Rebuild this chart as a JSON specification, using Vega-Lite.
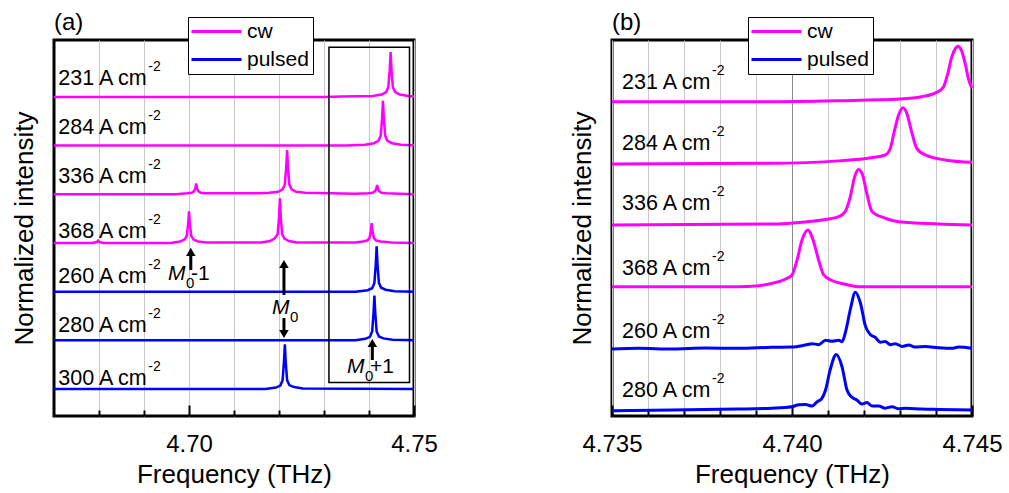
{
  "$schema": "https://vega.github.io/schema/vega-lite/v6.json",
  "padding": {"left": 9, "top": 9, "right": 0, "bottom": 0},
  "config": {
    "font": "Liberation Sans",
    "view": {"stroke": "black", "strokeWidth": 3},
    "axis": {"labelColor": "black", "titleColor": "black", "titleFontWeight": "normal", "labelFont": "Liberation Sans", "titleFont": "Liberation Sans"},
    "text": {"font": "Liberation Sans", "color": "black"},
    "legend": {"symbolType": "M-4,0L4,0", "symbolSize": 156.25, "symbolStrokeWidth": 3, "symbolOffset": 14, "labelOffset": 20, "labelFontSize": 21, "labelFont": "Liberation Sans", "labelColor": "black", "strokeColor": "black", "fillColor": "white", "padding": 4, "rowPadding": 6}
  },
  "datasets": {
    "spectraA": [
      {"trace": "231", "mode": "cw", "freq": 4.670, "intensity": 6.00},
      {"trace": "231", "mode": "cw", "freq": 4.730, "intensity": 6.00},
      {"trace": "231", "mode": "cw", "freq": 4.734, "intensity": 6.01},
      {"trace": "231", "mode": "cw", "freq": 4.7408, "intensity": 6.02},
      {"trace": "231", "mode": "cw", "freq": 4.7428, "intensity": 6.05},
      {"trace": "231", "mode": "cw", "freq": 4.7438, "intensity": 6.10},
      {"trace": "231", "mode": "cw", "freq": 4.7443, "intensity": 6.20},
      {"trace": "231", "mode": "cw", "freq": 4.7446, "intensity": 6.55},
      {"trace": "231", "mode": "cw", "freq": 4.7448, "intensity": 6.92},
      {"trace": "231", "mode": "cw", "freq": 4.7450, "intensity": 6.55},
      {"trace": "231", "mode": "cw", "freq": 4.7453, "intensity": 6.20},
      {"trace": "231", "mode": "cw", "freq": 4.7458, "intensity": 6.10},
      {"trace": "231", "mode": "cw", "freq": 4.7468, "intensity": 6.05},
      {"trace": "231", "mode": "cw", "freq": 4.7488, "intensity": 6.02},
      {"trace": "231", "mode": "cw", "freq": 4.750, "intensity": 6.01},

      {"trace": "284", "mode": "cw", "freq": 4.670, "intensity": 5.00},
      {"trace": "284", "mode": "cw", "freq": 4.735, "intensity": 5.00},
      {"trace": "284", "mode": "cw", "freq": 4.7391, "intensity": 5.02},
      {"trace": "284", "mode": "cw", "freq": 4.7411, "intensity": 5.05},
      {"trace": "284", "mode": "cw", "freq": 4.7421, "intensity": 5.10},
      {"trace": "284", "mode": "cw", "freq": 4.7426, "intensity": 5.20},
      {"trace": "284", "mode": "cw", "freq": 4.7429, "intensity": 5.55},
      {"trace": "284", "mode": "cw", "freq": 4.7431, "intensity": 5.92},
      {"trace": "284", "mode": "cw", "freq": 4.7433, "intensity": 5.55},
      {"trace": "284", "mode": "cw", "freq": 4.7436, "intensity": 5.20},
      {"trace": "284", "mode": "cw", "freq": 4.7441, "intensity": 5.10},
      {"trace": "284", "mode": "cw", "freq": 4.7451, "intensity": 5.05},
      {"trace": "284", "mode": "cw", "freq": 4.7471, "intensity": 5.02},
      {"trace": "284", "mode": "cw", "freq": 4.750, "intensity": 5.01},

      {"trace": "336", "mode": "cw", "freq": 4.670, "intensity": 4.00},
      {"trace": "336", "mode": "cw", "freq": 4.697, "intensity": 4.00},
      {"trace": "336", "mode": "cw", "freq": 4.6996, "intensity": 4.02},
      {"trace": "336", "mode": "cw", "freq": 4.7006, "intensity": 4.03},
      {"trace": "336", "mode": "cw", "freq": 4.7011, "intensity": 4.06},
      {"trace": "336", "mode": "cw", "freq": 4.7014, "intensity": 4.12},
      {"trace": "336", "mode": "cw", "freq": 4.7016, "intensity": 4.22},
      {"trace": "336", "mode": "cw", "freq": 4.7018, "intensity": 4.12},
      {"trace": "336", "mode": "cw", "freq": 4.7021, "intensity": 4.06},
      {"trace": "336", "mode": "cw", "freq": 4.7026, "intensity": 4.03},
      {"trace": "336", "mode": "cw", "freq": 4.7036, "intensity": 4.02},
      {"trace": "336", "mode": "cw", "freq": 4.716, "intensity": 4.02},
      {"trace": "336", "mode": "cw", "freq": 4.7178, "intensity": 4.03},
      {"trace": "336", "mode": "cw", "freq": 4.7198, "intensity": 4.05},
      {"trace": "336", "mode": "cw", "freq": 4.7208, "intensity": 4.10},
      {"trace": "336", "mode": "cw", "freq": 4.7213, "intensity": 4.20},
      {"trace": "336", "mode": "cw", "freq": 4.7216, "intensity": 4.55},
      {"trace": "336", "mode": "cw", "freq": 4.7218, "intensity": 4.91},
      {"trace": "336", "mode": "cw", "freq": 4.7220, "intensity": 4.55},
      {"trace": "336", "mode": "cw", "freq": 4.7223, "intensity": 4.20},
      {"trace": "336", "mode": "cw", "freq": 4.7228, "intensity": 4.10},
      {"trace": "336", "mode": "cw", "freq": 4.7238, "intensity": 4.05},
      {"trace": "336", "mode": "cw", "freq": 4.7258, "intensity": 4.03},
      {"trace": "336", "mode": "cw", "freq": 4.737, "intensity": 4.01},
      {"trace": "336", "mode": "cw", "freq": 4.7398, "intensity": 4.02},
      {"trace": "336", "mode": "cw", "freq": 4.7408, "intensity": 4.03},
      {"trace": "336", "mode": "cw", "freq": 4.7413, "intensity": 4.06},
      {"trace": "336", "mode": "cw", "freq": 4.7416, "intensity": 4.11},
      {"trace": "336", "mode": "cw", "freq": 4.7418, "intensity": 4.19},
      {"trace": "336", "mode": "cw", "freq": 4.7420, "intensity": 4.11},
      {"trace": "336", "mode": "cw", "freq": 4.7423, "intensity": 4.06},
      {"trace": "336", "mode": "cw", "freq": 4.7428, "intensity": 4.03},
      {"trace": "336", "mode": "cw", "freq": 4.7438, "intensity": 4.02},
      {"trace": "336", "mode": "cw", "freq": 4.750, "intensity": 4.00},

      {"trace": "368", "mode": "cw", "freq": 4.670, "intensity": 3.00},
      {"trace": "368", "mode": "cw", "freq": 4.6785, "intensity": 3.00},
      {"trace": "368", "mode": "cw", "freq": 4.6795, "intensity": 3.02},
      {"trace": "368", "mode": "cw", "freq": 4.6798, "intensity": 3.05},
      {"trace": "368", "mode": "cw", "freq": 4.6801, "intensity": 3.02},
      {"trace": "368", "mode": "cw", "freq": 4.681, "intensity": 3.00},
      {"trace": "368", "mode": "cw", "freq": 4.696, "intensity": 3.00},
      {"trace": "368", "mode": "cw", "freq": 4.698, "intensity": 3.03},
      {"trace": "368", "mode": "cw", "freq": 4.699, "intensity": 3.07},
      {"trace": "368", "mode": "cw", "freq": 4.6995, "intensity": 3.14},
      {"trace": "368", "mode": "cw", "freq": 4.6998, "intensity": 3.38},
      {"trace": "368", "mode": "cw", "freq": 4.7000, "intensity": 3.65},
      {"trace": "368", "mode": "cw", "freq": 4.7002, "intensity": 3.38},
      {"trace": "368", "mode": "cw", "freq": 4.7005, "intensity": 3.14},
      {"trace": "368", "mode": "cw", "freq": 4.701, "intensity": 3.07},
      {"trace": "368", "mode": "cw", "freq": 4.702, "intensity": 3.03},
      {"trace": "368", "mode": "cw", "freq": 4.704, "intensity": 3.01},
      {"trace": "368", "mode": "cw", "freq": 4.716, "intensity": 3.01},
      {"trace": "368", "mode": "cw", "freq": 4.718, "intensity": 3.04},
      {"trace": "368", "mode": "cw", "freq": 4.719, "intensity": 3.09},
      {"trace": "368", "mode": "cw", "freq": 4.7197, "intensity": 3.18},
      {"trace": "368", "mode": "cw", "freq": 4.7200, "intensity": 3.52},
      {"trace": "368", "mode": "cw", "freq": 4.7202, "intensity": 3.92},
      {"trace": "368", "mode": "cw", "freq": 4.7204, "intensity": 3.52},
      {"trace": "368", "mode": "cw", "freq": 4.7207, "intensity": 3.18},
      {"trace": "368", "mode": "cw", "freq": 4.7212, "intensity": 3.09},
      {"trace": "368", "mode": "cw", "freq": 4.7222, "intensity": 3.04},
      {"trace": "368", "mode": "cw", "freq": 4.724, "intensity": 3.01},
      {"trace": "368", "mode": "cw", "freq": 4.737, "intensity": 3.01},
      {"trace": "368", "mode": "cw", "freq": 4.7386, "intensity": 3.03},
      {"trace": "368", "mode": "cw", "freq": 4.7396, "intensity": 3.05},
      {"trace": "368", "mode": "cw", "freq": 4.7401, "intensity": 3.10},
      {"trace": "368", "mode": "cw", "freq": 4.7404, "intensity": 3.23},
      {"trace": "368", "mode": "cw", "freq": 4.7406, "intensity": 3.41},
      {"trace": "368", "mode": "cw", "freq": 4.7408, "intensity": 3.23},
      {"trace": "368", "mode": "cw", "freq": 4.7411, "intensity": 3.10},
      {"trace": "368", "mode": "cw", "freq": 4.7416, "intensity": 3.05},
      {"trace": "368", "mode": "cw", "freq": 4.7426, "intensity": 3.03},
      {"trace": "368", "mode": "cw", "freq": 4.745, "intensity": 3.01},
      {"trace": "368", "mode": "cw", "freq": 4.750, "intensity": 3.00},

      {"trace": "260", "mode": "pulsed", "freq": 4.670, "intensity": 2.00},
      {"trace": "260", "mode": "pulsed", "freq": 4.737, "intensity": 2.00},
      {"trace": "260", "mode": "pulsed", "freq": 4.7397, "intensity": 2.03},
      {"trace": "260", "mode": "pulsed", "freq": 4.7407, "intensity": 2.07},
      {"trace": "260", "mode": "pulsed", "freq": 4.7412, "intensity": 2.18},
      {"trace": "260", "mode": "pulsed", "freq": 4.7415, "intensity": 2.55},
      {"trace": "260", "mode": "pulsed", "freq": 4.7417, "intensity": 2.93},
      {"trace": "260", "mode": "pulsed", "freq": 4.7419, "intensity": 2.55},
      {"trace": "260", "mode": "pulsed", "freq": 4.7422, "intensity": 2.18},
      {"trace": "260", "mode": "pulsed", "freq": 4.7427, "intensity": 2.08},
      {"trace": "260", "mode": "pulsed", "freq": 4.7437, "intensity": 2.04},
      {"trace": "260", "mode": "pulsed", "freq": 4.7457, "intensity": 2.01},
      {"trace": "260", "mode": "pulsed", "freq": 4.750, "intensity": 2.00},

      {"trace": "280", "mode": "pulsed", "freq": 4.670, "intensity": 1.00},
      {"trace": "280", "mode": "pulsed", "freq": 4.737, "intensity": 1.00},
      {"trace": "280", "mode": "pulsed", "freq": 4.7392, "intensity": 1.03},
      {"trace": "280", "mode": "pulsed", "freq": 4.7402, "intensity": 1.07},
      {"trace": "280", "mode": "pulsed", "freq": 4.7407, "intensity": 1.18},
      {"trace": "280", "mode": "pulsed", "freq": 4.7410, "intensity": 1.55},
      {"trace": "280", "mode": "pulsed", "freq": 4.7412, "intensity": 1.92},
      {"trace": "280", "mode": "pulsed", "freq": 4.7414, "intensity": 1.55},
      {"trace": "280", "mode": "pulsed", "freq": 4.7417, "intensity": 1.18},
      {"trace": "280", "mode": "pulsed", "freq": 4.7422, "intensity": 1.08},
      {"trace": "280", "mode": "pulsed", "freq": 4.7432, "intensity": 1.04},
      {"trace": "280", "mode": "pulsed", "freq": 4.7452, "intensity": 1.01},
      {"trace": "280", "mode": "pulsed", "freq": 4.750, "intensity": 1.00},

      {"trace": "300", "mode": "pulsed", "freq": 4.670, "intensity": 0.00},
      {"trace": "300", "mode": "pulsed", "freq": 4.717, "intensity": 0.00},
      {"trace": "300", "mode": "pulsed", "freq": 4.7193, "intensity": 0.03},
      {"trace": "300", "mode": "pulsed", "freq": 4.7203, "intensity": 0.07},
      {"trace": "300", "mode": "pulsed", "freq": 4.7208, "intensity": 0.18},
      {"trace": "300", "mode": "pulsed", "freq": 4.7211, "intensity": 0.55},
      {"trace": "300", "mode": "pulsed", "freq": 4.7213, "intensity": 0.92},
      {"trace": "300", "mode": "pulsed", "freq": 4.7215, "intensity": 0.55},
      {"trace": "300", "mode": "pulsed", "freq": 4.7218, "intensity": 0.18},
      {"trace": "300", "mode": "pulsed", "freq": 4.7223, "intensity": 0.08},
      {"trace": "300", "mode": "pulsed", "freq": 4.7233, "intensity": 0.04},
      {"trace": "300", "mode": "pulsed", "freq": 4.7253, "intensity": 0.01},
      {"trace": "300", "mode": "pulsed", "freq": 4.750, "intensity": 0.00}
    ],
    "labelsA": [
      {"freq": 4.67096, "intensity": 6.24, "label": "231 A cm"},
      {"freq": 4.67096, "intensity": 5.23, "label": "284 A cm"},
      {"freq": 4.67096, "intensity": 4.23, "label": "336 A cm"},
      {"freq": 4.67096, "intensity": 3.10, "label": "368 A cm"},
      {"freq": 4.67096, "intensity": 2.17, "label": "260 A cm"},
      {"freq": 4.67096, "intensity": 1.165, "label": "280 A cm"},
      {"freq": 4.67096, "intensity": 0.09, "label": "300 A cm"}
    ],
    "boxA": [
      {"freq": 4.7311, "freq2": 4.7490, "intensity": 0.134, "intensity2": 7.02}
    ],
    "arrowsA": [
      {"mode": "M0-1", "dir": "up", "freq": 4.7004, "intensity": 2.445, "intensity2": 2.815},
      {"mode": "M0", "dir": "up", "freq": 4.7211, "intensity": 1.931, "intensity2": 2.568},
      {"mode": "M0", "dir": "down", "freq": 4.7211, "intensity": 1.459, "intensity2": 1.13},
      {"mode": "M0+1", "dir": "up", "freq": 4.74074, "intensity": 0.596, "intensity2": 0.945}
    ],
    "modesA": [
      {"mode": "M0-1", "freq": 4.69533, "intensity": 2.24, "suffix": "-1"},
      {"mode": "M0", "freq": 4.71844, "intensity": 1.541, "suffix": ""},
      {"mode": "M0+1", "freq": 4.73511, "intensity": 0.329, "suffix": "+1"}
    ],
    "spectraB": [
      {"trace": "231", "mode": "cw", "freq": 4.735, "intensity": 5.00},
      {"trace": "231", "mode": "cw", "freq": 4.7394, "intensity": 5.00},
      {"trace": "231", "mode": "cw", "freq": 4.7413, "intensity": 5.016},
      {"trace": "231", "mode": "cw", "freq": 4.7430, "intensity": 5.043},
      {"trace": "231", "mode": "cw", "freq": 4.7436, "intensity": 5.08},
      {"trace": "231", "mode": "cw", "freq": 4.7440, "intensity": 5.146},
      {"trace": "231", "mode": "cw", "freq": 4.7442, "intensity": 5.23},
      {"trace": "231", "mode": "cw", "freq": 4.74433, "intensity": 5.46},
      {"trace": "231", "mode": "cw", "freq": 4.74444, "intensity": 5.73},
      {"trace": "231", "mode": "cw", "freq": 4.74454, "intensity": 5.865},
      {"trace": "231", "mode": "cw", "freq": 4.74461, "intensity": 5.90},
      {"trace": "231", "mode": "cw", "freq": 4.74470, "intensity": 5.84},
      {"trace": "231", "mode": "cw", "freq": 4.74481, "intensity": 5.62},
      {"trace": "231", "mode": "cw", "freq": 4.74491, "intensity": 5.35},
      {"trace": "231", "mode": "cw", "freq": 4.745, "intensity": 5.22},

      {"trace": "284", "mode": "cw", "freq": 4.735, "intensity": 3.99},
      {"trace": "284", "mode": "cw", "freq": 4.7394, "intensity": 4.00},
      {"trace": "284", "mode": "cw", "freq": 4.7413, "intensity": 4.04},
      {"trace": "284", "mode": "cw", "freq": 4.7422, "intensity": 4.09},
      {"trace": "284", "mode": "cw", "freq": 4.74259, "intensity": 4.135},
      {"trace": "284", "mode": "cw", "freq": 4.74273, "intensity": 4.24},
      {"trace": "284", "mode": "cw", "freq": 4.74285, "intensity": 4.54},
      {"trace": "284", "mode": "cw", "freq": 4.74296, "intensity": 4.78},
      {"trace": "284", "mode": "cw", "freq": 4.74308, "intensity": 4.90},
      {"trace": "284", "mode": "cw", "freq": 4.74319, "intensity": 4.81},
      {"trace": "284", "mode": "cw", "freq": 4.74331, "intensity": 4.54},
      {"trace": "284", "mode": "cw", "freq": 4.74347, "intensity": 4.24},
      {"trace": "284", "mode": "cw", "freq": 4.74375, "intensity": 4.124},
      {"trace": "284", "mode": "cw", "freq": 4.74426, "intensity": 4.054},
      {"trace": "284", "mode": "cw", "freq": 4.745, "intensity": 4.016},

      {"trace": "336", "mode": "cw", "freq": 4.735, "intensity": 3.00},
      {"trace": "336", "mode": "cw", "freq": 4.7394, "intensity": 3.016},
      {"trace": "336", "mode": "cw", "freq": 4.74037, "intensity": 3.05},
      {"trace": "336", "mode": "cw", "freq": 4.74093, "intensity": 3.09},
      {"trace": "336", "mode": "cw", "freq": 4.7413, "intensity": 3.135},
      {"trace": "336", "mode": "cw", "freq": 4.74148, "intensity": 3.22},
      {"trace": "336", "mode": "cw", "freq": 4.74162, "intensity": 3.46},
      {"trace": "336", "mode": "cw", "freq": 4.74174, "intensity": 3.78},
      {"trace": "336", "mode": "cw", "freq": 4.74185, "intensity": 3.90},
      {"trace": "336", "mode": "cw", "freq": 4.74196, "intensity": 3.81},
      {"trace": "336", "mode": "cw", "freq": 4.74208, "intensity": 3.51},
      {"trace": "336", "mode": "cw", "freq": 4.74222, "intensity": 3.22},
      {"trace": "336", "mode": "cw", "freq": 4.74259, "intensity": 3.11},
      {"trace": "336", "mode": "cw", "freq": 4.74296, "intensity": 3.054},
      {"trace": "336", "mode": "cw", "freq": 4.74407, "intensity": 3.018},
      {"trace": "336", "mode": "cw", "freq": 4.745, "intensity": 3.00},

      {"trace": "368", "mode": "cw", "freq": 4.735, "intensity": 2.00},
      {"trace": "368", "mode": "cw", "freq": 4.73852, "intensity": 2.00},
      {"trace": "368", "mode": "cw", "freq": 4.73898, "intensity": 2.01},
      {"trace": "368", "mode": "cw", "freq": 4.73944, "intensity": 2.054},
      {"trace": "368", "mode": "cw", "freq": 4.73981, "intensity": 2.12},
      {"trace": "368", "mode": "cw", "freq": 4.74000, "intensity": 2.19},
      {"trace": "368", "mode": "cw", "freq": 4.74014, "intensity": 2.43},
      {"trace": "368", "mode": "cw", "freq": 4.74028, "intensity": 2.76},
      {"trace": "368", "mode": "cw", "freq": 4.74044, "intensity": 2.92},
      {"trace": "368", "mode": "cw", "freq": 4.74060, "intensity": 2.73},
      {"trace": "368", "mode": "cw", "freq": 4.74074, "intensity": 2.43},
      {"trace": "368", "mode": "cw", "freq": 4.74088, "intensity": 2.19},
      {"trace": "368", "mode": "cw", "freq": 4.74111, "intensity": 2.10},
      {"trace": "368", "mode": "cw", "freq": 4.74148, "intensity": 2.04},
      {"trace": "368", "mode": "cw", "freq": 4.74185, "intensity": 2.00},
      {"trace": "368", "mode": "cw", "freq": 4.745, "intensity": 2.00},

      {"trace": "260", "mode": "pulsed", "freq": 4.735, "intensity": 0.99},
      {"trace": "260", "mode": "pulsed", "freq": 4.73574, "intensity": 1.00},
      {"trace": "260", "mode": "pulsed", "freq": 4.73667, "intensity": 0.99},
      {"trace": "260", "mode": "pulsed", "freq": 4.73759, "intensity": 1.005},
      {"trace": "260", "mode": "pulsed", "freq": 4.73852, "intensity": 1.00},
      {"trace": "260", "mode": "pulsed", "freq": 4.73944, "intensity": 1.016},
      {"trace": "260", "mode": "pulsed", "freq": 4.74000, "intensity": 1.02},
      {"trace": "260", "mode": "pulsed", "freq": 4.74037, "intensity": 1.054},
      {"trace": "260", "mode": "pulsed", "freq": 4.74056, "intensity": 1.076},
      {"trace": "260", "mode": "pulsed", "freq": 4.74074, "intensity": 1.06},
      {"trace": "260", "mode": "pulsed", "freq": 4.74093, "intensity": 1.13},
      {"trace": "260", "mode": "pulsed", "freq": 4.74111, "intensity": 1.114},
      {"trace": "260", "mode": "pulsed", "freq": 4.74130, "intensity": 1.13},
      {"trace": "260", "mode": "pulsed", "freq": 4.74139, "intensity": 1.108},
      {"trace": "260", "mode": "pulsed", "freq": 4.74148, "intensity": 1.25},
      {"trace": "260", "mode": "pulsed", "freq": 4.74162, "intensity": 1.63},
      {"trace": "260", "mode": "pulsed", "freq": 4.74176, "intensity": 1.91},
      {"trace": "260", "mode": "pulsed", "freq": 4.74190, "intensity": 1.735},
      {"trace": "260", "mode": "pulsed", "freq": 4.74204, "intensity": 1.36},
      {"trace": "260", "mode": "pulsed", "freq": 4.74218, "intensity": 1.22},
      {"trace": "260", "mode": "pulsed", "freq": 4.74231, "intensity": 1.18},
      {"trace": "260", "mode": "pulsed", "freq": 4.74245, "intensity": 1.10},
      {"trace": "260", "mode": "pulsed", "freq": 4.74259, "intensity": 1.11},
      {"trace": "260", "mode": "pulsed", "freq": 4.74273, "intensity": 1.06},
      {"trace": "260", "mode": "pulsed", "freq": 4.74287, "intensity": 1.076},
      {"trace": "260", "mode": "pulsed", "freq": 4.74306, "intensity": 1.03},
      {"trace": "260", "mode": "pulsed", "freq": 4.74324, "intensity": 1.054},
      {"trace": "260", "mode": "pulsed", "freq": 4.74343, "intensity": 1.02},
      {"trace": "260", "mode": "pulsed", "freq": 4.74370, "intensity": 1.03},
      {"trace": "260", "mode": "pulsed", "freq": 4.74407, "intensity": 1.01},
      {"trace": "260", "mode": "pulsed", "freq": 4.74444, "intensity": 1.00},
      {"trace": "260", "mode": "pulsed", "freq": 4.74463, "intensity": 1.02},
      {"trace": "260", "mode": "pulsed", "freq": 4.745, "intensity": 1.00},

      {"trace": "280", "mode": "pulsed", "freq": 4.735, "intensity": -0.01},
      {"trace": "280", "mode": "pulsed", "freq": 4.73667, "intensity": 0.00},
      {"trace": "280", "mode": "pulsed", "freq": 4.73759, "intensity": 0.01},
      {"trace": "280", "mode": "pulsed", "freq": 4.73852, "intensity": 0.016},
      {"trace": "280", "mode": "pulsed", "freq": 4.73944, "intensity": 0.03},
      {"trace": "280", "mode": "pulsed", "freq": 4.74000, "intensity": 0.054},
      {"trace": "280", "mode": "pulsed", "freq": 4.74019, "intensity": 0.086},
      {"trace": "280", "mode": "pulsed", "freq": 4.74037, "intensity": 0.09},
      {"trace": "280", "mode": "pulsed", "freq": 4.74056, "intensity": 0.065},
      {"trace": "280", "mode": "pulsed", "freq": 4.74069, "intensity": 0.13},
      {"trace": "280", "mode": "pulsed", "freq": 4.74083, "intensity": 0.19},
      {"trace": "280", "mode": "pulsed", "freq": 4.74093, "intensity": 0.32},
      {"trace": "280", "mode": "pulsed", "freq": 4.74106, "intensity": 0.65},
      {"trace": "280", "mode": "pulsed", "freq": 4.74123, "intensity": 0.90},
      {"trace": "280", "mode": "pulsed", "freq": 4.74139, "intensity": 0.70},
      {"trace": "280", "mode": "pulsed", "freq": 4.74153, "intensity": 0.32},
      {"trace": "280", "mode": "pulsed", "freq": 4.74167, "intensity": 0.205},
      {"trace": "280", "mode": "pulsed", "freq": 4.74181, "intensity": 0.16},
      {"trace": "280", "mode": "pulsed", "freq": 4.74194, "intensity": 0.097},
      {"trace": "280", "mode": "pulsed", "freq": 4.74208, "intensity": 0.12},
      {"trace": "280", "mode": "pulsed", "freq": 4.74222, "intensity": 0.065},
      {"trace": "280", "mode": "pulsed", "freq": 4.74241, "intensity": 0.065},
      {"trace": "280", "mode": "pulsed", "freq": 4.74259, "intensity": 0.03},
      {"trace": "280", "mode": "pulsed", "freq": 4.74278, "intensity": 0.054},
      {"trace": "280", "mode": "pulsed", "freq": 4.74296, "intensity": 0.02},
      {"trace": "280", "mode": "pulsed", "freq": 4.74315, "intensity": 0.03},
      {"trace": "280", "mode": "pulsed", "freq": 4.74361, "intensity": 0.016},
      {"trace": "280", "mode": "pulsed", "freq": 4.74407, "intensity": 0.01},
      {"trace": "280", "mode": "pulsed", "freq": 4.745, "intensity": 0.00}
    ],
    "labelsB": [
      {"freq": 4.73528, "intensity": 5.198, "label": "231 A cm"},
      {"freq": 4.73528, "intensity": 4.214, "label": "284 A cm"},
      {"freq": 4.73528, "intensity": 3.24, "label": "336 A cm"},
      {"freq": 4.73528, "intensity": 2.188, "label": "368 A cm"},
      {"freq": 4.73528, "intensity": 1.162, "label": "260 A cm"},
      {"freq": 4.73528, "intensity": 0.217, "label": "280 A cm"}
    ]
  },
  "spacing": 128,
  "resolve": {"scale": {"x": "independent", "y": "independent", "color": "independent"}, "legend": {"color": "independent"}},
  "hconcat": [
    {
      "width": 360,
      "height": 376,
      "title": {"text": "(a)", "anchor": "start", "frame": "group", "fontSize": 24, "fontWeight": "normal", "font": "Liberation Sans", "color": "black", "baseline": "alphabetic", "offset": -37},
      "encoding": {
        "x": {
          "field": "freq", "type": "quantitative", "title": "Frequency (THz)",
          "scale": {"domain": [4.67, 4.75], "nice": false, "zero": false},
          "axis": {
            "values": [4.68, 4.69, 4.70, 4.71, 4.72, 4.73, 4.74, 4.75],
            "format": ".2f",
            "labelExpr": "abs(datum.value - 4.70) < 0.0001 || abs(datum.value - 4.75) < 0.0001 ? datum.label : ''",
            "grid": true, "gridColor": "#c8c8c8", "gridWidth": 1,
            "domain": false, "tickColor": "black", "tickWidth": 2,
            "tickSize": {"condition": {"test": "abs(datum.value - 4.70) < 0.0001 || abs(datum.value - 4.75) < 0.0001", "value": -11}, "value": -6},
            "labelFontSize": 24, "labelPadding": 27, "labelFlush": false, "labelOverlap": false,
            "titleFontSize": 26, "titlePadding": 0
          }
        },
        "y": {
          "field": "intensity", "type": "quantitative", "title": "Normalized intensity",
          "scale": {"domain": [-0.555, 7.17], "nice": false, "zero": false},
          "axis": {"domain": false, "ticks": false, "labels": false, "grid": false, "titleFontSize": 26, "titlePadding": 17}
        }
      },
      "layer": [
        {
          "data": {"name": "spectraA"},
          "mark": {"type": "line", "strokeWidth": 2.5},
          "encoding": {
            "color": {
              "field": "mode", "type": "nominal",
              "scale": {"domain": ["cw", "pulsed"], "range": ["#ff00ff", "#0000ff"]},
              "legend": {"orient": "none", "legendX": 134, "legendY": -23, "title": null}
            },
            "detail": {"field": "trace"}
          }
        },
        {
          "data": {"name": "boxA"},
          "mark": {"type": "rect", "fillOpacity": 0, "stroke": "black", "strokeWidth": 1.5},
          "encoding": {"x2": {"field": "freq2"}, "y2": {"field": "intensity2"}}
        },
        {
          "data": {"name": "labelsA"},
          "mark": {"type": "text", "align": "left", "baseline": "alphabetic", "fontSize": 21.5},
          "encoding": {"text": {"field": "label"}}
        },
        {
          "data": {"name": "labelsA"},
          "mark": {"type": "text", "align": "left", "baseline": "alphabetic", "fontSize": 14, "dx": 90, "dy": -14},
          "encoding": {"text": {"value": "-2"}}
        },
        {
          "data": {"name": "arrowsA"},
          "mark": {"type": "rule", "strokeWidth": 3, "color": "black"},
          "encoding": {"y2": {"field": "intensity2"}}
        },
        {
          "data": {"name": "arrowsA"},
          "mark": {"type": "point", "filled": true, "color": "black", "opacity": 1, "size": 90},
          "encoding": {
            "y": {"field": "intensity2", "type": "quantitative", "title": "Normalized intensity"},
            "shape": {"field": "dir", "type": "nominal", "scale": {"domain": ["up", "down"], "range": ["triangle-up", "triangle-down"]}, "legend": null}
          }
        },
        {
          "data": {"name": "modesA"},
          "mark": {"type": "text", "align": "left", "baseline": "alphabetic", "fontSize": 21, "fontStyle": "italic"},
          "encoding": {"text": {"value": "M"}}
        },
        {
          "data": {"name": "modesA"},
          "mark": {"type": "text", "align": "left", "baseline": "alphabetic", "fontSize": 15, "dx": 18, "dy": 8},
          "encoding": {"text": {"value": "0"}}
        },
        {
          "data": {"name": "modesA"},
          "mark": {"type": "text", "align": "left", "baseline": "alphabetic", "fontSize": 21, "dx": 23},
          "encoding": {"text": {"field": "suffix"}}
        }
      ]
    },
    {
      "width": 360,
      "height": 376,
      "title": {"text": "(b)", "anchor": "start", "frame": "group", "fontSize": 24, "fontWeight": "normal", "font": "Liberation Sans", "color": "black", "baseline": "alphabetic", "offset": -37},
      "encoding": {
        "x": {
          "field": "freq", "type": "quantitative", "title": "Frequency (THz)",
          "scale": {"domain": [4.735, 4.745], "nice": false, "zero": false},
          "axis": {
            "values": [4.735, 4.736, 4.737, 4.738, 4.739, 4.740, 4.741, 4.742, 4.743, 4.744, 4.745],
            "format": ".3f",
            "labelExpr": "abs(datum.value - 4.735) < 0.00001 || abs(datum.value - 4.740) < 0.00001 || abs(datum.value - 4.745) < 0.00001 ? datum.label : ''",
            "grid": true,
            "gridColor": {"condition": {"test": "abs(datum.value - 4.740) < 0.00001", "value": "#8a8a8a"}, "value": "#c8c8c8"},
            "gridWidth": 1,
            "domain": false, "tickColor": "black", "tickWidth": 2,
            "tickSize": {"condition": {"test": "abs(datum.value - 4.735) < 0.00001 || abs(datum.value - 4.740) < 0.00001 || abs(datum.value - 4.745) < 0.00001", "value": -11}, "value": -6},
            "labelFontSize": 24, "labelPadding": 27, "labelFlush": false, "labelOverlap": false,
            "titleFontSize": 26, "titlePadding": 0
          }
        },
        "y": {
          "field": "intensity", "type": "quantitative", "title": "Normalized intensity",
          "scale": {"domain": [-0.097, 6.0], "nice": false, "zero": false},
          "axis": {"domain": false, "ticks": false, "labels": false, "grid": false, "titleFontSize": 26, "titlePadding": 17}
        }
      },
      "layer": [
        {
          "data": {"name": "spectraB"},
          "mark": {"type": "line", "strokeWidth": 3, "interpolate": "monotone"},
          "encoding": {
            "color": {
              "field": "mode", "type": "nominal",
              "scale": {"domain": ["cw", "pulsed"], "range": ["#ff00ff", "#0000ff"]},
              "legend": {"orient": "none", "legendX": 136, "legendY": -23, "title": null}
            },
            "detail": {"field": "trace"}
          }
        },
        {
          "data": {"name": "labelsB"},
          "mark": {"type": "text", "align": "left", "baseline": "alphabetic", "fontSize": 21.5},
          "encoding": {"text": {"field": "label"}}
        },
        {
          "data": {"name": "labelsB"},
          "mark": {"type": "text", "align": "left", "baseline": "alphabetic", "fontSize": 14, "dx": 90, "dy": -14},
          "encoding": {"text": {"value": "-2"}}
        }
      ]
    }
  ]
}
